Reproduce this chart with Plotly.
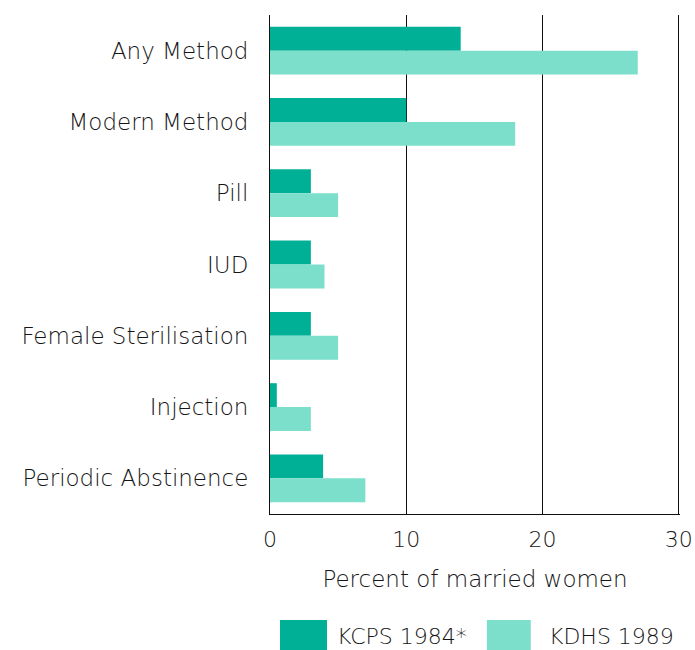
import plotly.graph_objects as go

categories = ["Any Method", "Modern Method", "Pill", "IUD", "Female Sterilisation", "Injection", "Periodic Abstinence"]
kcps_1984 = [14, 10, 3, 3, 3, 0.5, 3.9]
kdhs_1989 = [27, 18, 5, 4, 5, 3, 7]
series_names = ["KCPS 1984*", "KDHS 1989"]
colors = ["#00b096", "#7cdfcb"]
x_ticks = [0, 10, 20, 30]

FONT = "DejaVu Sans"
TXT = "#151515"
W = 300

fig = go.Figure()
for name, vals, col in zip(series_names, [kcps_1984, kdhs_1989], colors):
    fig.add_trace(go.Bar(y=categories, x=vals, name=name, orientation="h",
                         marker=dict(color=col, line=dict(width=0)), showlegend=False))

fig.update_layout(
    width=695, height=650,
    margin=dict(l=270, r=15, t=15, b=136),
    plot_bgcolor="white", paper_bgcolor="white",
    barmode="group", bargap=0.33, bargroupgap=0,
    font=dict(family=FONT, color=TXT, weight=W),
    xaxis=dict(range=[0, 30.1], tickvals=x_ticks, showgrid=True, gridcolor="#111", gridwidth=1,
               showline=True, linecolor="#111", linewidth=1, zeroline=False, automargin=False,
               ticklabeloverflow="allow",
               ticks="", tickfont=dict(size=22, family=FONT, color=TXT, weight=W), ticklabelstandoff=6,
               title=dict(text="Percent of married women", font=dict(size=23, family=FONT, color=TXT, weight=W), standoff=19)),
    yaxis=dict(autorange="reversed", showline=True, linecolor="#111", linewidth=1, automargin=False,
               showgrid=False, ticks="", tickfont=dict(size=23, family=FONT, color=TXT, weight=W),
               ticklabelstandoff=16),
)

# Legend drawn as swatches + labels below the axis title
# paper coords: plot area 410 px wide, 499 px tall
leg_y0, leg_y1 = -0.2124, -0.28
for (x0, x1, tx), name, col in zip([(0.0244, 0.139, 0.158), (0.529, 0.636, 0.676)], series_names, colors):
    fig.add_shape(type="rect", xref="paper", yref="paper", x0=x0, x1=x1, y0=leg_y0, y1=leg_y1,
                  fillcolor=col, line=dict(width=0))
    fig.add_annotation(xref="paper", yref="paper", x=tx, y=-0.2445, text=name, showarrow=False,
                       xanchor="left", yanchor="middle", font=dict(size=22, family=FONT, color=TXT, weight=W))

fig.write_html("out.html", config={"displayModeBar": False},
               post_script="document.body.style.margin='0px';")
